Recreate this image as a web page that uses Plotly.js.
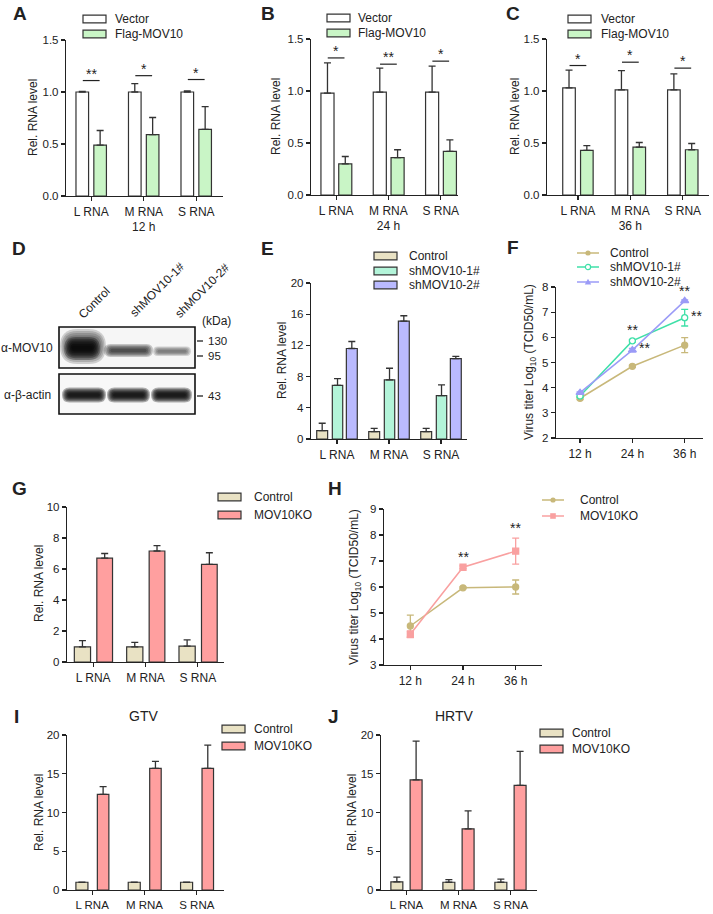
<!DOCTYPE html>
<html><head><meta charset="utf-8">
<script src="https://cdn.plot.ly/plotly-3.0.1.min.js"></script>
<style>html,body{margin:0;padding:0;background:#fff}#chart{width:713px;height:914px}</style>
</head><body><div id="chart"></div>
<script>
// ---------------- data ----------------
const rnaCats = ['L RNA', 'M RNA', 'S RNA'];
const timeCats = ['12 h', '24 h', '36 h'];
const lblA = ['L RNA', 'M RNA<br>12 h', 'S RNA'];
const lblB = ['L RNA', 'M RNA<br>24 h', 'S RNA'];
const lblC = ['L RNA', 'M RNA<br>36 h', 'S RNA'];

const A_vector = [1.00, 1.00, 1.00];
const A_vectorErr = [0.005, 0.08, 0.01];
const A_flag = [0.49, 0.59, 0.64];
const A_flagErr = [0.14, 0.165, 0.22];
const A_sig = ['**', '*', '*'];
const A_sigLevel = [1.11, 1.157, 1.12];

const B_vector = [0.98, 0.99, 0.99];
const B_vectorErr = [0.29, 0.23, 0.25];
const B_flag = [0.30, 0.36, 0.42];
const B_flagErr = [0.07, 0.075, 0.11];
const B_sig = ['*', '**', '*'];
const B_sigLevel = [1.318, 1.258, 1.287];

const C_vector = [1.03, 1.01, 1.01];
const C_vectorErr = [0.17, 0.185, 0.155];
const C_flag = [0.43, 0.46, 0.435];
const C_flagErr = [0.045, 0.045, 0.06];
const C_sig = ['*', '*', '*'];
const C_sigLevel = [1.245, 1.277, 1.22];

const E_control = [1.07, 0.95, 0.95];
const E_controlErr = [0.95, 0.4, 0.4];
const E_sh1 = [6.88, 7.57, 5.55];
const E_sh1Err = [0.86, 1.5, 1.4];
const E_sh2 = [11.6, 15.1, 10.3];
const E_sh2Err = [0.9, 0.7, 0.3];

const F_control = [3.58, 4.85, 5.69];
const F_controlErr = [0.05, 0.04, 0.3];
const F_sh1 = [3.67, 5.86, 6.78];
const F_sh1Err = [0.04, 0.05, 0.33];
const F_sh2 = [3.80, 5.49, 7.45];
const F_sh2Err = [0.03, 0.07, 0.04];

const G_control = [0.98, 0.98, 1.02];
const G_controlErr = [0.4, 0.28, 0.41];
const G_ko = [6.70, 7.16, 6.30];
const G_koErr = [0.3, 0.35, 0.75];

const H_control = [4.50, 5.97, 6.00];
const H_controlErr = [0.42, 0.03, 0.27];
const H_ko = [4.18, 6.76, 7.38];
const H_koErr = [0.13, 0.05, 0.5];

const I_control = [1.0, 1.0, 1.0];
const I_controlErr = [0, 0, 0];
const I_ko = [12.35, 15.7, 15.7];
const I_koErr = [1.0, 0.9, 3.0];

const J_control = [1.05, 1.0, 1.0];
const J_controlErr = [0.6, 0.35, 0.4];
const J_ko = [14.2, 7.9, 13.5];
const J_koErr = [5.0, 2.3, 4.4];

// ---------------- styling helpers ----------------
const W = 713, H = 914;
const X = p => p / W, Y = p => 1 - p / H;
const FONT = 'Liberation Sans, Arial, sans-serif';
const INK = '#222';
const EDGE = '#333';
const COL = {
  vector: '#ffffff', flag: '#c9f5c6',
  ctrl: '#e9e2c4', sh1: '#b3f4d9', sh2: '#babaff', ko: '#ff9f9f',
  lctrl: '#c8b87a', lsh1: '#3fe0a8', lsh2: '#9b9bf7', lko: '#f9a0a0'
};

const layout = {
  width: W, height: H, margin: {l: 0, r: 0, t: 0, b: 0},
  paper_bgcolor: '#fff', plot_bgcolor: 'rgba(0,0,0,0)',
  showlegend: false, barmode: 'overlay',
  font: {family: FONT, size: 12, color: INK},
  shapes: [], annotations: []
};
const traces = [];

function refs(n) { return n === 1 ? {x: 'x', y: 'y', xa: 'xaxis', ya: 'yaxis'} : {x: 'x' + n, y: 'y' + n, xa: 'xaxis' + n, ya: 'yaxis' + n}; }

function addAxes(n, xpx, ypx, xr, yr, dtick, cats, labels, fmt, xfont) {
  const r = refs(n);
  layout[r.xa] = {
    domain: [X(xpx[0]), X(xpx[1])], anchor: r.y, type: 'category', range: xr,
    showline: true, linecolor: INK, linewidth: 1.2, ticks: 'outside', ticklen: 4, tickwidth: 1.2, tickcolor: INK,
    tickmode: 'array', tickvals: cats, ticktext: labels,
    tickfont: {family: FONT, size: xfont || 12, color: INK}, showgrid: false, zeroline: false, fixedrange: true
  };
  layout[r.ya] = {
    domain: [Y(ypx[0]), Y(ypx[1])], anchor: r.x, range: yr, dtick: dtick, tick0: yr[0],
    showline: true, linecolor: INK, linewidth: 1.2, ticks: 'outside', ticklen: 4, tickwidth: 1.2, tickcolor: INK,
    tickformat: fmt || '', tickfont: {family: FONT, size: 11.5, color: INK},
    showgrid: false, zeroline: false, fixedrange: true
  };
}

function bar(n, y, err, color, offset, width) {
  const r = refs(n);
  traces.push({
    type: 'bar', x: rnaCats, y: y, xaxis: r.x, yaxis: r.y, offset: offset, width: width,
    marker: {color: color, line: {color: EDGE, width: 1.2}},
    error_y: {type: 'data', array: err, arrayminus: err.map(() => 0), symmetric: false, color: EDGE, thickness: 1.3, width: 3.5},
    hoverinfo: 'skip'
  });
}

function line(n, y, err, color, symbol, fill, size) {
  const r = refs(n);
  traces.push({
    type: 'scatter', mode: 'lines+markers', x: timeCats, y: y, xaxis: r.x, yaxis: r.y,
    line: {color: color, width: 1.5},
    marker: {symbol: symbol, size: size, color: fill, line: {color: color, width: 1.3}},
    error_y: {type: 'data', array: err, color: color, thickness: 1.3, width: 3.5},
    hoverinfo: 'skip'
  });
}

function text(t, xp, yp, size, opts) {
  layout.annotations.push(Object.assign({
    text: t, x: X(xp), y: Y(yp), xref: 'paper', yref: 'paper', showarrow: false,
    xanchor: 'center', yanchor: 'middle', font: {family: FONT, size: size, color: INK}
  }, opts || {}));
}
function letter(t, xp, yp) { text('<b>' + t + '</b>', xp, yp, 19, {xanchor: 'left'}); }
function ytitle(t, xp, yp, size) { text(t, xp, yp, size || 12, {textangle: -90}); }

function rectPx(x0, y0, x1, y1, fill, lineColor, lw) {
  layout.shapes.push({type: 'rect', xref: 'paper', yref: 'paper',
    x0: X(x0), x1: X(x1), y0: Y(y1), y1: Y(y0), fillcolor: fill,
    line: {color: lineColor || 'rgba(0,0,0,0)', width: lw || 0}});
}
function ellPx(x0, y0, x1, y1, fill, op) {
  layout.shapes.push({type: 'circle', xref: 'paper', yref: 'paper', x0: X(x0), x1: X(x1), y0: Y(y1), y1: Y(y0),
    fillcolor: fill, opacity: op, line: {width: 0}});
}
function capsulePx(x0, y0, x1, y1, op) {
  const r = Math.min((y1 - y0) / 2, (x1 - x0) / 2), ym = (y0 + y1) / 2;
  const P = (x, y) => X(x) + ',' + Y(y);
  const path = 'M' + P(x0 + r, y0) + ' L' + P(x1 - r, y0) + ' Q' + P(x1, y0) + ' ' + P(x1, ym) +
    ' Q' + P(x1, y1) + ' ' + P(x1 - r, y1) + ' L' + P(x0 + r, y1) + ' Q' + P(x0, y1) + ' ' + P(x0, ym) +
    ' Q' + P(x0, y0) + ' ' + P(x0 + r, y0) + ' Z';
  layout.shapes.push({type: 'path', xref: 'paper', yref: 'paper', path: path, fillcolor: '#000', opacity: op, line: {width: 0}});
}
// soft blot band: stacked capsules shrinking toward the core
function band(x0, y0, x1, y1, layers, op, dx) {
  const dy = (y1 - y0) / 2 / (layers + 0.5);
  for (let k = 0; k < layers; k++) capsulePx(x0 + k * dx, y0 + k * dy, x1 - k * dx, y1 - k * dy, op);
}
function linePx(x0, y0, x1, y1, color, w) {
  layout.shapes.push({type: 'line', xref: 'paper', yref: 'paper', x0: X(x0), x1: X(x1), y0: Y(y0), y1: Y(y1),
    line: {color: color, width: w}});
}
function barLegend(items, sx, tx, rows) {
  items.forEach((it, i) => {
    rectPx(sx, rows[i] - 3.8, sx + 23, rows[i] + 3.8, it[1], EDGE, 1.2);
    text(it[0], tx, rows[i], 12, {xanchor: 'left'});
  });
}
function lineLegend(items, sx, tx, rows) {
  items.forEach((it, i) => {
    const y = rows[i], cx = sx + 11;
    linePx(sx, y, sx + 22, y, it[1], 1.5);
    if (it[2] === 'circle') ellPx(cx - 2.6, y - 2.6, cx + 2.6, y + 2.6, it[1], 1);
    if (it[2] === 'open') {
      layout.shapes.push({type: 'circle', xref: 'paper', yref: 'paper', x0: X(cx - 2.6), x1: X(cx + 2.6), y0: Y(y + 2.6), y1: Y(y - 2.6), fillcolor: '#fff', line: {color: it[1], width: 1.2}});
    }
    if (it[2] === 'square') rectPx(cx - 2.8, y - 2.8, cx + 2.8, y + 2.8, it[1]);
    if (it[2] === 'tri') layout.shapes.push({type: 'path', xref: 'paper', yref: 'paper',
      path: 'M' + X(cx - 3.2) + ',' + Y(y + 2.4) + ' L' + X(cx + 3.2) + ',' + Y(y + 2.4) + ' L' + X(cx) + ',' + Y(y - 3.2) + ' Z',
      fillcolor: it[1], line: {width: 0}});
    text(it[0], tx, y, 12, {xanchor: 'left'});
  });
}
function sigBars(n, levels, sigs) {
  const r = refs(n);
  levels.forEach((lv, i) => {
    layout.shapes.push({type: 'line', xref: r.x, yref: r.y, x0: i - 0.16, x1: i + 0.16, y0: lv, y1: lv, line: {color: INK, width: 1.2}});
    layout.annotations.push({text: sigs[i], x: i, y: lv, xref: r.x, yref: r.y, showarrow: false,
      xanchor: 'center', yanchor: 'bottom', yshift: -3, font: {family: FONT, size: 14, color: INK}});
  });
}
function sigAt(n, xi, yv, s, xshift) {
  const r = refs(n);
  layout.annotations.push({text: s, x: xi, y: yv, xref: r.x, yref: r.y, showarrow: false,
    xanchor: 'center', yanchor: 'middle', xshift: xshift || 0, font: {family: FONT, size: 14, color: INK}});
}

// ---------------- A, B, C ----------------
addAxes(1, [66, 223], [196, 40], [-0.48, 2.51], [0, 1.5], 0.5, rnaCats, lblA, '.1f');
addAxes(2, [311, 458], [195, 39], [-0.48, 2.33], [0, 1.5], 0.5, rnaCats, lblB, '.1f');
addAxes(3, [547, 709], [195, 39], [-0.59, 2.5], [0, 1.5], 0.5, rnaCats, lblC, '.1f');
bar(1, A_vector, A_vectorErr, COL.vector, -0.29, 0.24);
bar(1, A_flag, A_flagErr, COL.flag, 0.05, 0.24);
bar(2, B_vector, B_vectorErr, COL.vector, -0.29, 0.25);
bar(2, B_flag, B_flagErr, COL.flag, 0.05, 0.25);
bar(3, C_vector, C_vectorErr, COL.vector, -0.29, 0.24);
bar(3, C_flag, C_flagErr, COL.flag, 0.05, 0.24);
sigBars(1, A_sigLevel, A_sig);
sigBars(2, B_sigLevel, B_sig);
sigBars(3, C_sigLevel, C_sig);
letter('A', 11, 13); letter('B', 259, 13); letter('C', 504, 13);
ytitle('Rel. RNA level', 33, 118); ytitle('Rel. RNA level', 276, 117); ytitle('Rel. RNA level', 515, 117);
barLegend([['Vector', COL.vector], ['Flag-MOV10', COL.flag]], 83, 113, [19, 34]);
barLegend([['Vector', COL.vector], ['Flag-MOV10', COL.flag]], 327, 356, [18, 33]);
barLegend([['Vector', COL.vector], ['Flag-MOV10', COL.flag]], 568, 599, [19, 34]);

// ---------------- D (western blot) ----------------
letter('D', 10, 248);
text('Control', 94, 303, 12, {textangle: -45});
text('shMOV10-1#', 157, 290, 12, {textangle: -45});
text('shMOV10-2#', 202, 291, 12, {textangle: -45});
text('(kDa)', 216, 321, 12);
rectPx(59, 327, 195, 368, '#f6f6f6', '#111', 1.6);
rectPx(59, 374, 195, 414, '#f8f8f8', '#111', 1.6);
// MOV10 bands
band(60, 329, 106, 364, 8, 0.16, 1.6);
band(64, 337, 100, 360, 6, 0.22, 1.5);
band(104, 344, 153, 357, 5, 0.2, 1.6);
band(153, 346.5, 191, 356, 4, 0.15, 1.5);
// actin bands
[[62, 106], [107, 150], [151, 192]].forEach(b => band(b[0], 387.5, b[1], 402.5, 6, 0.3, 1.2));
text('α-MOV10', 55, 348, 12, {xanchor: 'right'});
text('α-β-actin', 53, 395, 12, {xanchor: 'right'});
linePx(197, 341, 203, 341, INK, 1.3); text('130', 206, 341, 11.5, {xanchor: 'left'});
linePx(197, 356, 203, 356, INK, 1.3); text('95', 206, 356, 11.5, {xanchor: 'left'});
linePx(197, 396, 203, 396, INK, 1.3); text('43', 206, 396, 11.5, {xanchor: 'left'});

// ---------------- E ----------------
addAxes(4, [311, 467], [439, 283], [-0.5, 2.5], [0, 20], 4, rnaCats, rnaCats);
bar(4, E_control, E_controlErr, COL.ctrl, -0.39, 0.21);
bar(4, E_sh1, E_sh1Err, COL.sh1, -0.09, 0.2);
bar(4, E_sh2, E_sh2Err, COL.sh2, 0.18, 0.21);
letter('E', 259, 248);
ytitle('Rel. RNA level', 282, 361);
barLegend([['Control', COL.ctrl], ['shMOV10-1#', COL.sh1], ['shMOV10-2#', COL.sh2]], 374, 407, [256, 271, 285]);

// ---------------- F ----------------
addAxes(5, [556, 703], [438, 287], [-0.46, 2.35], [2, 8], 1, timeCats, timeCats);
line(5, F_control, F_controlErr, COL.lctrl, 'circle', COL.lctrl, 6);
line(5, F_sh1, F_sh1Err, COL.lsh1, 'circle', '#ffffff', 6);
line(5, F_sh2, F_sh2Err, COL.lsh2, 'triangle-up', COL.lsh2, 7);
sigAt(5, 1, 6.31, '**');
sigAt(5, 1, 5.57, '**', 12);
sigAt(5, 2, 7.83, '**');
sigAt(5, 2, 6.84, '**', 12);
letter('F', 505, 247);
ytitle('Virus titer Log<sub>10</sub> (TCID50/mL)', 530, 362);
lineLegend([['Control', COL.lctrl, 'circle'], ['shMOV10-1#', COL.lsh1, 'open'], ['shMOV10-2#', COL.lsh2, 'tri']], 577, 608, [253, 267, 282]);

// ---------------- G ----------------
addAxes(6, [67, 224], [662, 507], [-0.5, 2.5], [0, 10], 2, rnaCats, rnaCats);
bar(6, G_control, G_controlErr, COL.ctrl, -0.36, 0.31);
bar(6, G_ko, G_koErr, COL.ko, 0.07, 0.3);
letter('G', 10, 488);
ytitle('Rel. RNA level', 39, 584);
barLegend([['Control', COL.ctrl], ['MOV10KO', COL.ko]], 218, 252, [497, 515]);

// ---------------- H ----------------
addAxes(7, [384, 542], [665, 509], [-0.5, 2.5], [3, 9], 1, timeCats, timeCats);
line(7, H_control, H_controlErr, COL.lctrl, 'circle', COL.lctrl, 6);
line(7, H_ko, H_koErr, COL.lko, 'square', COL.lko, 6);
sigAt(7, 1, 7.15, '**');
sigAt(7, 2, 8.27, '**');
letter('H', 326, 488);
ytitle('Virus titer Log<sub>10</sub> (TCID50/mL)', 355, 587);
lineLegend([['Control', COL.lctrl, 'circle'], ['MOV10KO', COL.lko, 'square']], 542, 578, [500, 516]);

// ---------------- I ----------------
addAxes(8, [67, 224], [890, 735], [-0.48, 2.52], [0, 20], 5, rnaCats, rnaCats, '', 11.5);
bar(8, I_control, I_controlErr, COL.ctrl, -0.31, 0.23);
bar(8, I_ko, I_koErr, COL.ko, 0.1, 0.22);
letter('I', 12, 716);
text('GTV', 143, 716, 14);
ytitle('Rel. RNA level', 39, 813);
barLegend([['Control', COL.ctrl], ['MOV10KO', COL.ko]], 222, 252, [729, 746]);

// ---------------- J ----------------
addAxes(9, [381, 537], [890, 735], [-0.49, 2.51], [0, 20], 5, rnaCats, rnaCats, '', 11.5);
bar(9, J_control, J_controlErr, COL.ctrl, -0.3, 0.23);
bar(9, J_ko, J_koErr, COL.ko, 0.07, 0.23);
letter('J', 326, 716);
text('HRTV', 455, 716, 14);
ytitle('Rel. RNA level', 352, 813);
barLegend([['Control', COL.ctrl], ['MOV10KO', COL.ko]], 540, 570, [733, 749]);

Plotly.newPlot('chart', traces, layout, {staticPlot: true, displayModeBar: false});
</script>
</body></html>
